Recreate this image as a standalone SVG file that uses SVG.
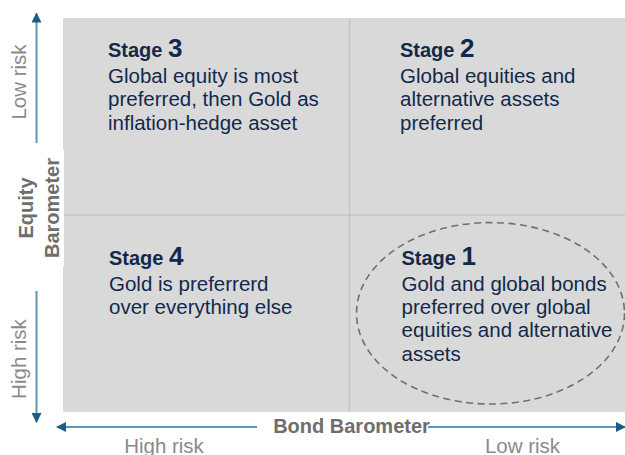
<svg xmlns="http://www.w3.org/2000/svg" width="625" height="455" viewBox="0 0 625 455">
  <style>
    .stage { font-family: "Liberation Sans", Arial, sans-serif; font-weight: bold; font-size: 20px; fill: #13294b; }
    .num { font-size: 26px; }
    .body { font-family: "Liberation Sans", Arial, sans-serif; font-size: 20.5px; fill: #13294b; }
    .axis { font-family: "Liberation Sans", Arial, sans-serif; font-weight: bold; font-size: 20px; fill: #6e6e6e; }
    .risk { font-family: "Liberation Sans", Arial, sans-serif; font-size: 20.5px; fill: #8a8a8a; }
    .arrow { stroke: #5c98b6; stroke-width: 2; fill: none; }
    .divider { stroke: #c4c4c4; stroke-width: 1.5; }
  </style>
  <defs>
    <marker id="ah" viewBox="0 0 10 10" refX="9" refY="5" markerWidth="10" markerHeight="10" markerUnits="userSpaceOnUse" orient="auto">
      <path d="M0,0 L10,5 L0,10 Z" fill="#1b5d87"/>
    </marker>
  </defs>
  <rect width="625" height="455" fill="#ffffff"/>
  <g id="quadrants">
    <rect x="63" y="18" width="562" height="394" fill="#d9d9d9"/>
    <line class="divider" x1="349.5" y1="18" x2="349.5" y2="412"/>
    <line class="divider" x1="63" y1="215" x2="625" y2="215"/>
  </g>
  <g id="stage3">
    <text class="stage" x="108" y="57">Stage <tspan class="num">3</tspan></text>
    <text class="body" x="108" y="83">Global equity is most</text>
    <text class="body" x="108" y="106.3">preferred, then Gold as</text>
    <text class="body" x="108" y="129.6">inflation-hedge asset</text>
  </g>
  <g id="stage2">
    <text class="stage" x="400" y="57">Stage <tspan class="num">2</tspan></text>
    <text class="body" x="400" y="83">Global equities and</text>
    <text class="body" x="400" y="106.3">alternative assets</text>
    <text class="body" x="400" y="129.6">preferred</text>
  </g>
  <g id="stage4">
    <text class="stage" x="109" y="265">Stage <tspan class="num">4</tspan></text>
    <text class="body" x="109" y="291">Gold is preferrerd</text>
    <text class="body" x="109" y="313.5">over everything else</text>
  </g>
  <g id="stage1">
    <ellipse cx="490.5" cy="313.3" rx="134" ry="90.7" fill="none" stroke="#707070" stroke-width="1.6" stroke-dasharray="7,4.5"/>
    <text class="stage" x="401.5" y="265">Stage <tspan class="num">1</tspan></text>
    <text class="body" x="401.5" y="291">Gold and global bonds</text>
    <text class="body" x="401.5" y="314.2">preferred over global</text>
    <text class="body" x="401.5" y="337.4">equities and alternative</text>
    <text class="body" x="401.5" y="360.6">assets</text>
  </g>
  <g id="equity-label">
    <rect x="10" y="150" width="54" height="116" fill="#ffffff"/>
    <text class="axis" transform="translate(32.5,208) rotate(-90)" text-anchor="middle">Equity</text>
    <text class="axis" transform="translate(58.5,208) rotate(-90)" text-anchor="middle">Barometer</text>
  </g>
  <g id="connectors">
    <line class="arrow" x1="36.5" y1="143" x2="36.5" y2="13.5" marker-end="url(#ah)"/>
    <line class="arrow" x1="36.5" y1="291" x2="36.5" y2="422" marker-end="url(#ah)"/>
    <line class="arrow" x1="257" y1="427" x2="57" y2="427" marker-end="url(#ah)"/>
    <line class="arrow" x1="428" y1="427" x2="625" y2="427" marker-end="url(#ah)"/>
  </g>
  <g id="labels">
    <text class="risk" transform="translate(26,82) rotate(-90)" text-anchor="middle">Low risk</text>
    <text class="risk" transform="translate(26,359) rotate(-90)" text-anchor="middle">High risk</text>
    <text class="axis" x="351.5" y="433.3" text-anchor="middle">Bond Barometer</text>
    <text class="risk" x="164" y="452.5" text-anchor="middle">High risk</text>
    <text class="risk" x="522.5" y="452.5" text-anchor="middle">Low risk</text>
  </g>
</svg>
